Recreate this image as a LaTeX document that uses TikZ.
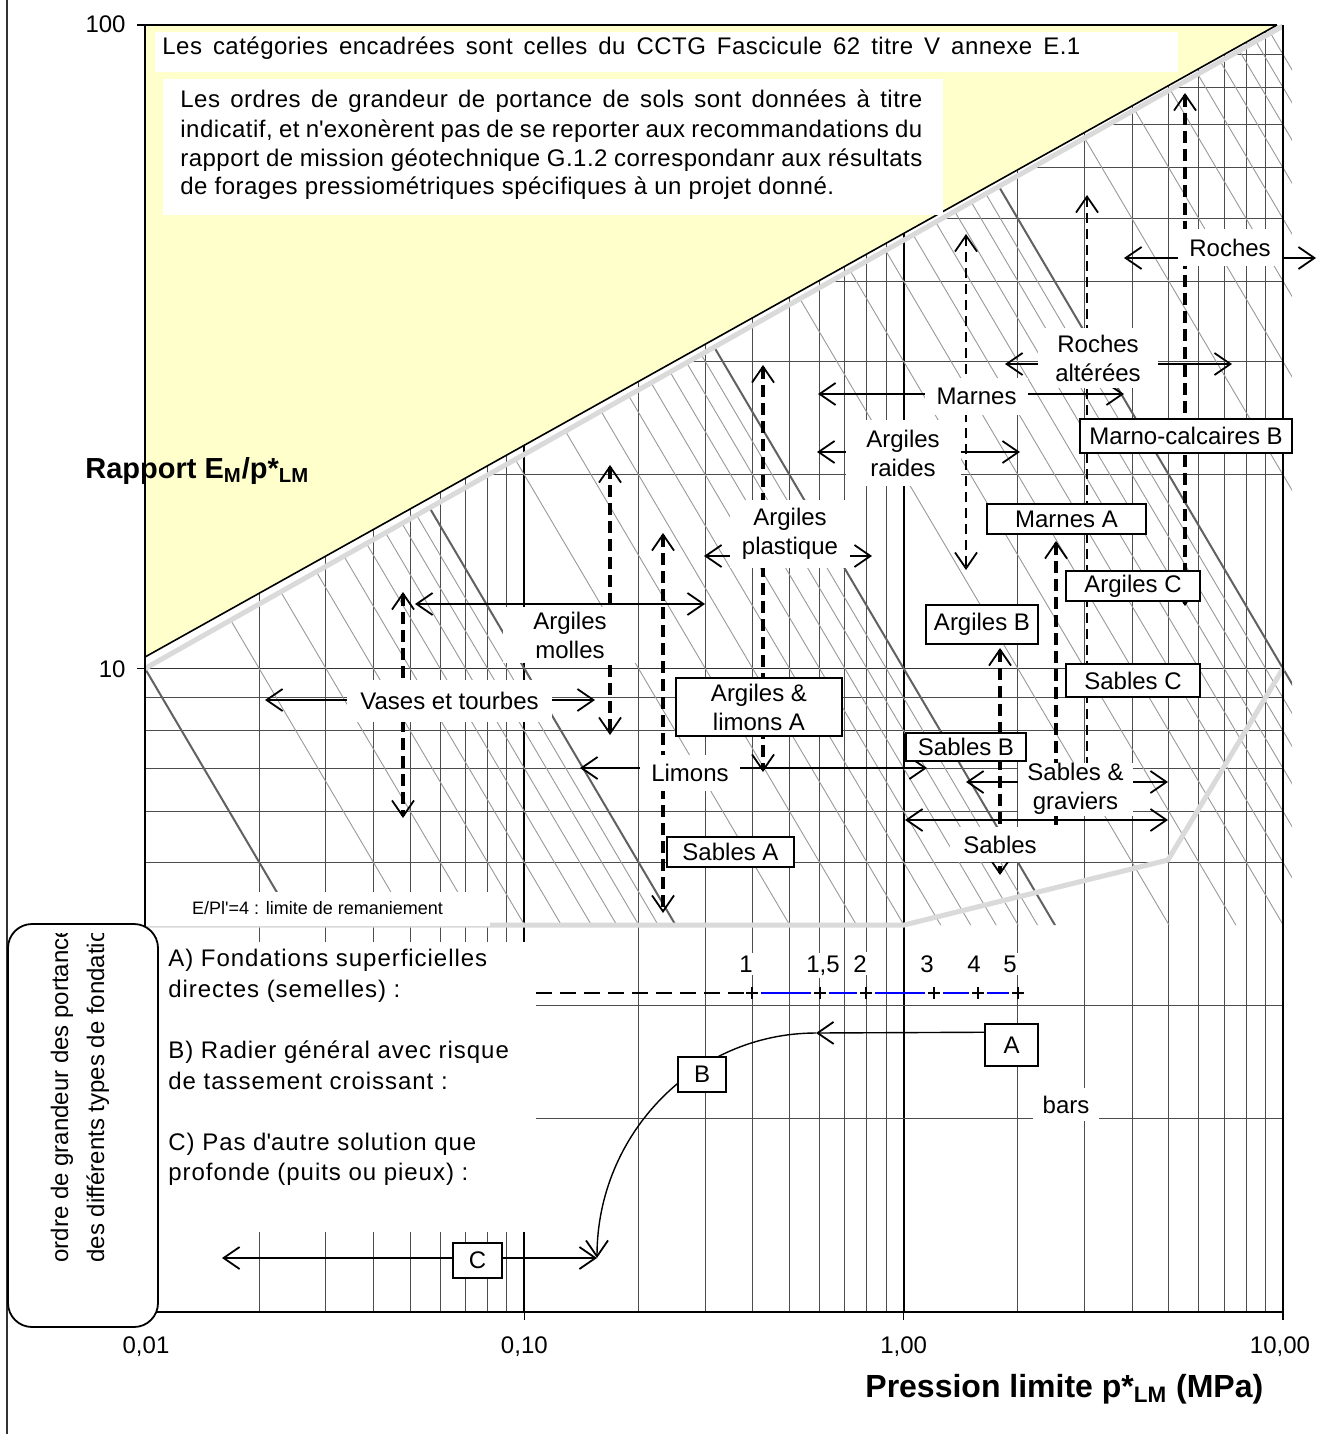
\documentclass[tikz,border=0pt]{standalone}
\usepackage{fontspec}
\setmainfont{Liberation Sans}
\newfontfamily\widefont{Liberation Sans}[LetterSpace=2]
\newfontfamily\widerfont{Liberation Sans}[LetterSpace=4]
\usetikzlibrary{arrows.meta,calc}
\definecolor{ylw}{HTML}{FFFFCC}
\definecolor{lgray}{HTML}{DADADA}
\newcommand{\lblfont}{\fontsize{12}{14.5}\selectfont}
\newcommand{\widetxt}{\widefont\fontsize{12}{14}\selectfont}
\newcommand{\widertxt}{\widerfont\fontsize{12}{14}\selectfont}
\begin{document}
\begin{tikzpicture}[x=0.5pt,y=-0.5pt,
 >={Straight Barb[length=8pt,width=11pt,line width=0.9pt]},
 gv/.style={draw=black!70,line width=0.5pt},
 gmaj/.style={draw=black,line width=1pt},
 hatchl/.style={draw=black!40,line width=0.45pt},
 hatchd/.style={draw=black!62,line width=1pt},
 harr/.style={line width=0.9pt,<->},
 varr/.style={line width=1.6pt,dash pattern=on 6pt off 3pt,<->},
 varrt/.style={line width=1pt,dash pattern=on 5pt off 3pt,<->},
 lab/.style={fill=white,inner sep=0pt,align=center,font=\lblfont},
 boxl/.style={draw=black,line width=1pt,fill=white,inner sep=0pt,align=center,font=\lblfont},
 wbox/.style={fill=white,draw=none},
]
\useasboundingbox (0,0) rectangle (1317,1434);
\fill[white] (0,0) rectangle (1317,1434);
\draw[black!80,line width=0.8pt] (7,0) -- (7,1434);

% ---- grid
\foreach \n in {0,1,2}{\foreach \k in {2,...,9}{
  \pgfmathsetmacro\xx{145+379.333*(\n+log10(\k))}
  \draw[gv] (\xx,25) -- (\xx,1312);}}
\draw[gmaj] (524.333,25) -- (524.333,1312);
\draw[gmaj] (903.667,25) -- (903.667,1312);
\foreach \r in {5,...,9}{
  \pgfmathsetmacro\yy{1312-643.5*log10(\r)}
  \draw[gv] (145,\yy) -- (1283,\yy);}
\foreach \r in {2,...,9}{
  \pgfmathsetmacro\yy{1312-643.5*(1+log10(\r))}
  \pgfmathsetmacro\xs{145+1138*log10(\r)}
  \draw[gv] (\xs,\yy) -- (1283,\yy);}
\foreach \r in {2,3}{
  \pgfmathsetmacro\yy{1312-643.5*log10(\r)}
  \draw[gv] (536,\yy) -- (1283,\yy);}
\draw[draw=black!80,line width=0.8pt] (145,668.5) -- (1283,668.5);

% ---- hatching (lines of constant E = k.10^n)
\begin{scope}
 \clip (145,668.5) -- (1283,25) -- (1292,25) -- (1292,925) -- (145,925) -- cycle;
 \foreach \n in {-1,0,1,2}{\foreach \k in {2,...,9}{
   \pgfmathsetmacro\L{\n+log10(\k)}
   \pgfmathsetmacro\ya{1312-643.5*(\L+2)}
   \pgfmathsetmacro\yb{1312-643.5*(\L-1.0264)}
   \draw[hatchl] (145,\ya) -- (1293,\yb);}}
 \foreach \L in {-1,0,1,2}{
   \pgfmathsetmacro\ya{1312-643.5*(\L+2)}
   \pgfmathsetmacro\yb{1312-643.5*(\L-1.0264)}
   \draw[hatchd] (145,\ya) -- (1293,\yb);}
\end{scope}

% ---- yellow zone and limits
\fill[ylw] (145,25) -- (1277,25) -- (145,657) -- cycle;
\draw[black,line width=0.8pt] (145,657) -- (1277,25);
\draw[lgray,line width=2.5pt] (145,668.5) -- (1283,26);
\draw[lgray,line width=2.5pt] (145,925) -- (904,925) -- (1168,860) -- (1283,668.5);

% ---- frame
\draw[black,line width=0.6pt] (145,25) -- (1277,25);
\draw[black,line width=1pt] (145,25) -- (145,1312);
\draw[black,line width=1.2pt] (1283,25) -- (1283,1312);
\draw[black,line width=1.2pt] (145,1312) -- (1283,1312);
\foreach \yy in {25,668.5}{\draw[black,line width=0.6pt] (137,\yy) -- (145,\yy);}
\foreach \xx in {524.333,903.667,1283}{\draw[black,line width=0.8pt] (\xx,1312) -- (\xx,1320);}

% ---- white text areas
\fill[white] (146,942) rectangle (536,1232);
\node[wbox,minimum width=172pt,minimum height=17pt,inner sep=0pt,font=\fontsize{9}{10}\selectfont] (remani) at (317.5,908.5) {E/Pl\textquotesingle=4 : limite de remaniement};

% top notes
\fill[white] (155,32) rectangle (1178,72);
\node[anchor=base west,inner sep=0pt,font=\widetxt] (note1) at (162,55)
 {\makebox[459pt][s]{Les catégories encadrées sont celles du CCTG Fascicule 62 titre V annexe E.1}};
\fill[white] (163,79) rectangle (943,215);
\node[anchor=base west,inner sep=0pt,font=\widetxt] (p1) at (180,108)
 {\makebox[371pt][s]{Les ordres de grandeur de portance de sols sont données à titre}};
\node[anchor=base west,inner sep=0pt,font=\widetxt] (p2) at (180,137)
 {\makebox[371pt][s]{indicatif, et n\textquotesingle exonèrent pas de se reporter aux recommandations du}};
\node[anchor=base west,inner sep=0pt,font=\widetxt] (p3) at (180,166)
 {\makebox[371pt][s]{rapport de mission géotechnique G.1.2 correspondanr aux résultats}};
\node[anchor=base west,inner sep=0pt,font=\widetxt] (p4) at (180,194)
 {de forages pressiométriques spécifiques à un projet donné.};

% ---- horizontal range arrows
\draw[harr] (1124,258) -- (1316,258);
\draw[harr] (1005,364) -- (1232,364);
\draw[harr] (818,394) -- (1124,394);
\draw[harr] (817,452) -- (1020,452);
\draw[harr] (704,556) -- (872,556);
\draw[harr] (415,604) -- (705,604);
\draw[harr] (265,700) -- (595,700);
\draw[harr] (580,768) -- (927,768);
\draw[harr] (966,782) -- (1168,782);
\draw[harr] (905,820) -- (1168,820);

% ---- vertical dashed arrows
\draw[varr] (403,592) -- (403,818);
\draw[varr] (610,465) -- (610,735);
\draw[varr] (663,533) -- (663,913);
\draw[varr] (763,365) -- (763,772);
\draw[varrt] (966,234) -- (966,570);
\draw[varr] (1000,648) -- (1000,875);
\draw[varr,<-] (1056,541) -- (1056,827);
\draw[varrt] (1087,195) -- (1087,795);
\draw[varr] (1185,93) -- (1185,606);

% ---- range labels
\node[lab,minimum width=52pt,minimum height=18.5pt] (roches) at (1230,247.5) {Roches};
\node[lab,minimum width=60pt,minimum height=30pt] (rochalt) at (1098,358) {Roches\\altérées};
\node[lab,minimum width=51.5pt,minimum height=18.5pt] (marnes) at (976.5,396.5) {Marnes};
\node[lab,minimum width=57.5pt,minimum height=33pt] (argraid) at (903,453) {Argiles\\raides};
\node[lab,minimum width=60pt,minimum height=34pt] (argplas) at (790,534) {Argiles\\plastique};
\node[lab,minimum width=67pt,minimum height=28pt] (argmol) at (570,635) {Argiles\\molles};
\node[lab,minimum width=102.5pt,minimum height=21pt] (vases) at (449.5,701) {Vases et tourbes};
\node[lab,minimum width=50pt,minimum height=18pt] (limons) at (690,773) {Limons};
\node[lab,minimum width=57.5pt,minimum height=26.5pt] (sabgrav) at (1075.5,789) {Sables \&\\graviers};
\node[lab,minimum width=50pt,minimum height=17.5pt] (sables) at (1000,844.5) {Sables};

% ---- CCTG categories
\node[boxl,minimum width=106pt,minimum height=17pt] (mcB) at (1186,436) {Marno-calcaires B};
\node[boxl,minimum width=79.5pt,minimum height=15pt] (marA) at (1066.5,519) {Marnes A};
\node[boxl,minimum width=67pt,minimum height=15pt] (argC) at (1133,586) {Argiles C};
\node[boxl,minimum width=56pt,minimum height=19.5pt] (argB) at (982,624.5) {Argiles B};
\node[boxl,minimum width=67pt,minimum height=16.5pt] (sabC) at (1133,680.5) {Sables C};
\node[boxl,minimum width=60pt,minimum height=14pt] (sabB) at (966,747) {Sables B};
\node[boxl,minimum width=83pt,minimum height=29pt] (alA) at (759,707) {Argiles \&\\limons A};
\node[boxl,minimum width=63.5pt,minimum height=15pt] (sabA) at (730.5,852) {Sables A};

% ---- foundations part
\node[anchor=base west,inner sep=0pt,font=\widertxt] (ta1) at (168,966) {A) Fondations superficielles};
\node[anchor=base west,inner sep=0pt,font=\widertxt] (ta2) at (168,997) {directes (semelles) :};
\node[anchor=base west,inner sep=0pt,font=\widertxt] (tb1) at (168,1058) {B) Radier général avec risque};
\node[anchor=base west,inner sep=0pt,font=\widertxt] (tb2) at (168,1089) {de tassement croissant :};
\node[anchor=base west,inner sep=0pt,font=\widertxt] (tc1) at (168,1150) {C) Pas d\textquotesingle autre solution que};
\node[anchor=base west,inner sep=0pt,font=\widertxt] (tc2) at (168,1180) {profonde (puits ou pieux) :};

\draw[line width=0.8pt,dash pattern=on 8pt off 4pt] (536,993) -- (748,993);
\foreach \a/\b in {752/820,820/866,866/934,934/978,978/1018}{
  \draw[blue,line width=0.8pt] (\a+9,993) -- (\b-9,993);}
\foreach \m in {752,820,866,934,978,1018}{
  \draw[line width=0.6pt] (\m-6,993) -- (\m+6,993) (\m,987) -- (\m,999);}
\foreach \xx/\t in {746/1,823/{1,5},860/2,927/3,974/4,1010/5}{
  \node[fill=white,inner sep=1.5pt,anchor=base,font=\lblfont] at (\xx,972) {\t};}
\node[fill=white,inner xsep=5pt,inner ysep=4pt,anchor=base,font=\lblfont] (bars) at (1066,1113) {bars};

\node[boxl,minimum width=26.5pt,minimum height=21pt] (A) at (1011.5,1045) {A};
\coordinate (aA) at (816,1033);
\coordinate (cR) at (597,1258);
\coordinate (cL) at (222,1258);
\draw[line width=0.7pt,->] ($(A.north west)!0.21!(A.south west)$) -- (aA);
\draw[line width=0.7pt,->] (aA) .. controls ($(aA)+(-121,0)$) and ($(cR)+(0,-124)$) .. (cR);
\draw[line width=0.7pt,<->] (cL) -- (cR);
\node[boxl,minimum width=24pt,minimum height=17.5pt] (B) at (702,1074.5) {B};
\node[boxl,minimum width=24.5pt,minimum height=17.5pt] (C) at (477.5,1260.5) {C};

% ---- left rounded box
\draw[fill=white,line width=0.9pt,rounded corners=12pt] (8,924) rectangle (158,1327);
\begin{scope}
 \clip (10,933) rectangle (156,1325);
 \node[rotate=90,anchor=base west,inner sep=0pt,font=\lblfont] (ordre1) at (68,1263) {ordre de grandeur des portances};
 \node[rotate=90,anchor=base west,inner sep=0pt,font=\lblfont] (ordre2) at (104,1263) {des différents types de fondations};
\end{scope}

% ---- axis labels
\node[anchor=base east,inner sep=0pt,font=\lblfont] (y100) at (126,33) {100};
\node[anchor=base east,inner sep=0pt,font=\lblfont] (y10) at (126,677) {10};
\foreach \xx/\t in {146/{0,01},524.333/{0,10},903.667/{1,00},1280/{10,00}}{
  \node[anchor=base,inner sep=0pt,font=\lblfont] at (\xx,1353) {\t};}
\node[anchor=base west,inner sep=0pt,font=\fontsize{14.5}{16}\selectfont\bfseries] (ytitle) at (85,478)
 {Rapport E\textsubscript{M}/p*\textsubscript{LM}};
\node[anchor=base west,inner sep=0pt,font=\fontsize{16}{18}\selectfont\bfseries] (xtitle) at (865,1397)
 {Pression limite p*\textsubscript{LM} (MPa)};
\end{tikzpicture}
\end{document}
